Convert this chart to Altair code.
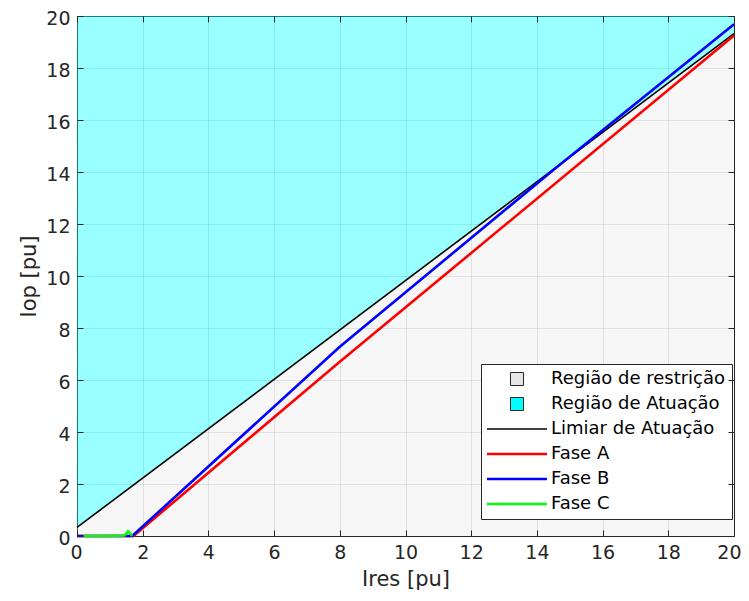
import altair as alt
import pandas as pd

# ---- data ----
lim_x = [0, 20]
lim_y = [0.33, 19.32]

faseA_x = [0, 1.72, 8, 20]
faseA_y = [0, 0, 6.7, 19.25]

faseB_x = [0, 1.68, 8, 14.5, 20]
faseB_y = [0, 0, 7.28, 14.08, 19.68]

faseC_x = [0.2, 1.0, 1.45, 1.55, 1.62, 1.68]
faseC_y = [0, 0, 0.02, 0.18, 0.1, 0]

x_ticks = list(range(0, 21, 2))
y_ticks = list(range(0, 21, 2))

legend_names = ["Região de restrição", "Região de Atuação", "Limiar de Atuação",
                "Fase A", "Fase B", "Fase C"]
legend_fills = ["#e6e6e6", "#00ffff", "transparent", "transparent", "transparent", "transparent"]
legend_strokes = ["#262626", "#262626", "#000000", "#ff0000", "#0000ff", "#00ff00"]
legend_widths = [1, 1, 1.5, 2.5, 2.5, 2.5]
SQ = "M2.23,-1H4.23V1H2.23Z"
LN = "M-1.385,0H7.846"
legend_shapes = [SQ, SQ, LN, LN, LN, LN]

FONT = "DejaVu Sans"
W, H = 657, 520

lim_df = pd.DataFrame({"x": lim_x, "y": lim_y})


def line_df(xs, ys):
    return pd.DataFrame({"x": xs, "y": ys, "i": list(range(len(xs)))})


xscale = alt.Scale(domain=[0, 20], nice=False, zero=False)
yscale = alt.Scale(domain=[0, 20], nice=False, zero=False)

x_axis = alt.Axis(orient="bottom", values=x_ticks, title="Ires [pu]", grid=True, ticks=False,
                  domain=False, labelFontSize=19, titleFontSize=21, labelPadding=7,
                  titlePadding=6, gridColor="#262626", gridOpacity=0.15, format="d",
                  labelFlush=True, labelFlushOffset=7)
y_axis = alt.Axis(orient="left", values=y_ticks, title="Iop [pu]", grid=True, ticks=False,
                  domain=False, labelFontSize=19, titleFontSize=21, labelPadding=7,
                  titlePadding=6, gridColor="#262626", gridOpacity=0.15, format="d",
                  labelFlush=False, labelOffset=2)

x_tick_axis = alt.Axis(orient="top", values=x_ticks, labels=False, title=None, ticks=False,
                       domain=False, grid=True, gridColor="#262626", gridOpacity=1,
                       gridWidth=1, gridDash=[6, H - 12], zindex=1)
y_tick_axis = alt.Axis(orient="right", values=y_ticks, labels=False, title=None, ticks=False,
                       domain=False, grid=True, gridColor="#262626", gridOpacity=1,
                       gridWidth=1, gridDash=[6, W - 12], zindex=1)

base = alt.Chart(lim_df)

area_atuacao = base.mark_area(color="#00ffff", opacity=0.4).encode(
    x=alt.X("x:Q", scale=xscale, axis=x_axis),
    y=alt.Y("y:Q", scale=yscale, axis=y_axis),
    y2=alt.datum(20),
)
area_restr = base.mark_area(color="#e6e6e6", opacity=0.3).encode(
    x=alt.X("x:Q", scale=xscale, axis=None),
    y=alt.Y("y:Q", scale=yscale, axis=None),
    y2=alt.datum(0),
)
lim_line = base.mark_line(color="#000000", strokeWidth=1.6).encode(
    x=alt.X("x:Q", scale=xscale, axis=x_tick_axis),
    y=alt.Y("y:Q", scale=yscale, axis=y_tick_axis),
)


def phase(xs, ys, color):
    return alt.Chart(line_df(xs, ys)).mark_line(color=color, strokeWidth=2.6).encode(
        x=alt.X("x:Q", scale=xscale, axis=None),
        y=alt.Y("y:Q", scale=yscale, axis=None),
        order="i:Q",
    )


lineA = phase(faseA_x, faseA_y, "#ff0000")
lineB = phase(faseB_x, faseB_y, "#0000ff")
lineC = phase(faseC_x, faseC_y, "#00ff00")

leg_df = pd.DataFrame({"serie": legend_names})
leg = alt.Legend(title=None, orient="none", legendX=404, legendY=348, labelFont=FONT,
                 labelFontSize=18, labelColor="#000000", labelOffset=46,
                 symbolSize=169, rowPadding=7, padding=6, strokeColor="#262626",
                 fillColor="#ffffff", cornerRadius=0, labelLimit=400)
legend_layer = alt.Chart(leg_df).mark_point(size=169, opacity=1, clip=True, filled=False).encode(
    x=alt.value(-200),
    y=alt.value(-200),
    shape=alt.Shape("serie:N", scale=alt.Scale(domain=legend_names, range=legend_shapes), legend=leg),
    fill=alt.Fill("serie:N", scale=alt.Scale(domain=legend_names, range=legend_fills), legend=leg),
    stroke=alt.Stroke("serie:N", scale=alt.Scale(domain=legend_names, range=legend_strokes), legend=leg),
    strokeWidth=alt.StrokeWidth("serie:N", scale=alt.Scale(type="ordinal", domain=legend_names,
                                                          range=legend_widths), legend=leg),
)

chart = alt.layer(area_atuacao, area_restr, lim_line, lineA, lineB, lineC, legend_layer).properties(
    width=W, height=H,
    autosize=alt.AutoSizeParams(type="none"),
    padding={"left": 69, "top": 8, "right": 7, "bottom": 57},
    background="#ffffff",
).configure_view(
    stroke="#262626", strokeWidth=1
).configure_axis(
    labelFont=FONT, titleFont=FONT, labelColor="#262626", titleColor="#262626",
    titleFontWeight="normal"
)

chart.save("out.html", embed_options={"renderer": "svg", "actions": False})
